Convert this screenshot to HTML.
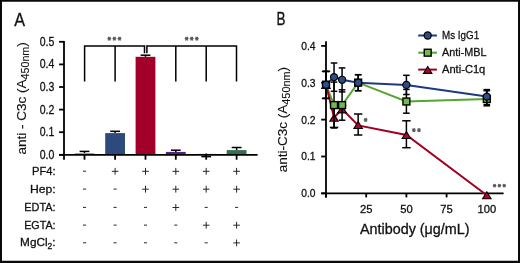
<!DOCTYPE html>
<html><head><meta charset="utf-8"><style>
html,body{margin:0;padding:0;background:#fff;}
svg{display:block;will-change:transform;}
text{font-family:"Liberation Sans", sans-serif;fill:#111;stroke:#111;stroke-width:0.3px;}
</style></head><body>
<svg width="520" height="263" viewBox="0 0 520 263">
<path d="M0 0H520V263H0Z M2 1.75V260.85H518V1.75Z" fill="#0a0a0a" fill-rule="evenodd"/>
<text x="14.3" y="25.6" font-size="17.8" textLength="10.8" lengthAdjust="spacingAndGlyphs">A</text>
<text x="276.4" y="25.4" font-size="18.0" textLength="9.0" lengthAdjust="spacingAndGlyphs">B</text>
<rect x="74.60" y="153.0" width="19.8" height="1.80" fill="#7dc36b"/>
<line x1="84.5" y1="151.4" x2="84.5" y2="153.0" stroke="#000" stroke-width="1.5"/>
<line x1="79.60" y1="151.4" x2="89.40" y2="151.4" stroke="#000" stroke-width="1.5"/>
<rect x="105.20" y="133.1" width="19.8" height="21.70" fill="#2e4a7d"/>
<line x1="115.1" y1="131.3" x2="115.1" y2="133.1" stroke="#000" stroke-width="1.5"/>
<line x1="110.20" y1="131.3" x2="120.00" y2="131.3" stroke="#000" stroke-width="1.5"/>
<rect x="135.60" y="56.8" width="19.8" height="98.00" fill="#a30029"/>
<line x1="145.5" y1="55.2" x2="145.5" y2="56.8" stroke="#000" stroke-width="1.5"/>
<line x1="140.60" y1="55.2" x2="150.40" y2="55.2" stroke="#000" stroke-width="1.5"/>
<rect x="165.90" y="151.9" width="19.8" height="2.90" fill="#58207f"/>
<line x1="175.8" y1="150.2" x2="175.8" y2="151.9" stroke="#000" stroke-width="1.5"/>
<line x1="170.90" y1="150.2" x2="180.70" y2="150.2" stroke="#000" stroke-width="1.5"/>
<rect x="196.30" y="153.6" width="19.8" height="1.20" fill="#f3d6b0"/>
<line x1="206.2" y1="156.6" x2="206.2" y2="153.6" stroke="#000" stroke-width="1.5"/>
<line x1="201.30" y1="156.6" x2="211.10" y2="156.6" stroke="#000" stroke-width="1.5"/>
<rect x="226.70" y="150.1" width="19.8" height="4.70" fill="#356e51"/>
<line x1="236.6" y1="147.5" x2="236.6" y2="150.1" stroke="#000" stroke-width="1.5"/>
<line x1="231.70" y1="147.5" x2="241.50" y2="147.5" stroke="#000" stroke-width="1.5"/>
<line x1="64.0" y1="41" x2="64.0" y2="159.7" stroke="#000" stroke-width="1.8"/>
<line x1="59.1" y1="154.8" x2="257.6" y2="154.8" stroke="#000" stroke-width="1.8"/>
<line x1="59.1" y1="154.80" x2="64.0" y2="154.80" stroke="#000" stroke-width="1.8"/>
<text x="54.3" y="158.70" font-size="12.6" text-anchor="end" textLength="14.6" lengthAdjust="spacingAndGlyphs">0.0</text>
<line x1="59.1" y1="132.20" x2="64.0" y2="132.20" stroke="#000" stroke-width="1.8"/>
<text x="54.3" y="136.10" font-size="12.6" text-anchor="end" textLength="14.6" lengthAdjust="spacingAndGlyphs">0.1</text>
<line x1="59.1" y1="109.60" x2="64.0" y2="109.60" stroke="#000" stroke-width="1.8"/>
<text x="54.3" y="113.50" font-size="12.6" text-anchor="end" textLength="14.6" lengthAdjust="spacingAndGlyphs">0.2</text>
<line x1="59.1" y1="87.00" x2="64.0" y2="87.00" stroke="#000" stroke-width="1.8"/>
<text x="54.3" y="90.90" font-size="12.6" text-anchor="end" textLength="14.6" lengthAdjust="spacingAndGlyphs">0.3</text>
<line x1="59.1" y1="64.40" x2="64.0" y2="64.40" stroke="#000" stroke-width="1.8"/>
<text x="54.3" y="68.30" font-size="12.6" text-anchor="end" textLength="14.6" lengthAdjust="spacingAndGlyphs">0.4</text>
<line x1="59.1" y1="41.80" x2="64.0" y2="41.80" stroke="#000" stroke-width="1.8"/>
<text x="54.3" y="45.70" font-size="12.6" text-anchor="end" textLength="14.6" lengthAdjust="spacingAndGlyphs">0.5</text>
<line x1="84.5" y1="154.8" x2="84.5" y2="159.7" stroke="#000" stroke-width="1.8"/>
<line x1="115.1" y1="154.8" x2="115.1" y2="159.7" stroke="#000" stroke-width="1.8"/>
<line x1="145.5" y1="154.8" x2="145.5" y2="159.7" stroke="#000" stroke-width="1.8"/>
<line x1="175.8" y1="154.8" x2="175.8" y2="159.7" stroke="#000" stroke-width="1.8"/>
<line x1="206.2" y1="154.8" x2="206.2" y2="159.7" stroke="#000" stroke-width="1.8"/>
<line x1="236.6" y1="154.8" x2="236.6" y2="159.7" stroke="#000" stroke-width="1.8"/>
<path d="M84.6 81.5 V45.9 H144.5 V53.3 M115.1 45.9 V81.5" fill="none" stroke="#000" stroke-width="1.5"/>
<path d="M146.9 53.3 V45.9 H236.5 V81.5 M175.8 45.9 V81.5 M206.2 45.9 V81.5" fill="none" stroke="#000" stroke-width="1.5"/>
<path d="M107.40 38.70 L111.20 38.70 M108.25 36.88 L110.35 40.52 M110.35 36.88 L108.25 40.52 " stroke="#5a5a5a" stroke-width="1.25" fill="none"/>
<path d="M112.50 38.70 L116.30 38.70 M113.35 36.88 L115.45 40.52 M115.45 36.88 L113.35 40.52 " stroke="#5a5a5a" stroke-width="1.25" fill="none"/>
<path d="M117.60 38.70 L121.40 38.70 M118.45 36.88 L120.55 40.52 M120.55 36.88 L118.45 40.52 " stroke="#5a5a5a" stroke-width="1.25" fill="none"/>
<path d="M184.70 38.70 L188.50 38.70 M185.55 36.88 L187.65 40.52 M187.65 36.88 L185.55 40.52 " stroke="#5a5a5a" stroke-width="1.25" fill="none"/>
<path d="M189.80 38.70 L193.60 38.70 M190.65 36.88 L192.75 40.52 M192.75 36.88 L190.65 40.52 " stroke="#5a5a5a" stroke-width="1.25" fill="none"/>
<path d="M194.90 38.70 L198.70 38.70 M195.75 36.88 L197.85 40.52 M197.85 36.88 L195.75 40.52 " stroke="#5a5a5a" stroke-width="1.25" fill="none"/>
<text style="stroke-width:0.12px" transform="translate(25.8,154.5) rotate(-90)" font-size="13.6" textLength="112.3" lengthAdjust="spacingAndGlyphs">anti - C3c (A<tspan font-size="10.8" dy="3.5">450nm</tspan><tspan dy="-3.5">)</tspan></text>
<text x="55.6" y="174.80" font-size="11.8" text-anchor="end" textLength="23.6" lengthAdjust="spacingAndGlyphs">PF4:</text>
<path d="M83.00 171.20 H86.00" stroke="#262626" stroke-width="1.0"/>
<path d="M111.80 171.30 H118.40 M115.10 167.90 V174.70" stroke="#262626" stroke-width="1.0"/>
<path d="M142.20 171.30 H148.80 M145.50 167.90 V174.70" stroke="#262626" stroke-width="1.0"/>
<path d="M172.50 171.30 H179.10 M175.80 167.90 V174.70" stroke="#262626" stroke-width="1.0"/>
<path d="M202.90 171.30 H209.50 M206.20 167.90 V174.70" stroke="#262626" stroke-width="1.0"/>
<path d="M233.30 171.30 H239.90 M236.60 167.90 V174.70" stroke="#262626" stroke-width="1.0"/>
<text x="55.6" y="192.70" font-size="11.8" text-anchor="end" textLength="25.7" lengthAdjust="spacingAndGlyphs">Hep:</text>
<path d="M83.00 189.10 H86.00" stroke="#262626" stroke-width="1.0"/>
<path d="M113.60 189.10 H116.60" stroke="#262626" stroke-width="1.0"/>
<path d="M142.20 189.20 H148.80 M145.50 185.80 V192.60" stroke="#262626" stroke-width="1.0"/>
<path d="M172.50 189.20 H179.10 M175.80 185.80 V192.60" stroke="#262626" stroke-width="1.0"/>
<path d="M202.90 189.20 H209.50 M206.20 185.80 V192.60" stroke="#262626" stroke-width="1.0"/>
<path d="M233.30 189.20 H239.90 M236.60 185.80 V192.60" stroke="#262626" stroke-width="1.0"/>
<text x="55.6" y="211.00" font-size="11.8" text-anchor="end" textLength="31.4" lengthAdjust="spacingAndGlyphs">EDTA:</text>
<path d="M83.00 207.40 H86.00" stroke="#262626" stroke-width="1.0"/>
<path d="M113.60 207.40 H116.60" stroke="#262626" stroke-width="1.0"/>
<path d="M144.00 207.40 H147.00" stroke="#262626" stroke-width="1.0"/>
<path d="M172.50 207.50 H179.10 M175.80 204.10 V210.90" stroke="#262626" stroke-width="1.0"/>
<path d="M204.70 207.40 H207.70" stroke="#262626" stroke-width="1.0"/>
<path d="M235.10 207.40 H238.10" stroke="#262626" stroke-width="1.0"/>
<text x="55.6" y="228.70" font-size="11.8" text-anchor="end" textLength="31.4" lengthAdjust="spacingAndGlyphs">EGTA:</text>
<path d="M83.00 225.10 H86.00" stroke="#262626" stroke-width="1.0"/>
<path d="M113.60 225.10 H116.60" stroke="#262626" stroke-width="1.0"/>
<path d="M144.00 225.10 H147.00" stroke="#262626" stroke-width="1.0"/>
<path d="M174.30 225.10 H177.30" stroke="#262626" stroke-width="1.0"/>
<path d="M202.90 225.20 H209.50 M206.20 221.80 V228.60" stroke="#262626" stroke-width="1.0"/>
<path d="M233.30 225.20 H239.90 M236.60 221.80 V228.60" stroke="#262626" stroke-width="1.0"/>
<text x="55.6" y="246.40" font-size="11.8" text-anchor="end" textLength="35.5" lengthAdjust="spacingAndGlyphs">MgCl<tspan font-size="8.5" dy="2.8">2</tspan><tspan dy="-2.8">:</tspan></text>
<path d="M83.00 242.80 H86.00" stroke="#262626" stroke-width="1.0"/>
<path d="M113.60 242.80 H116.60" stroke="#262626" stroke-width="1.0"/>
<path d="M144.00 242.80 H147.00" stroke="#262626" stroke-width="1.0"/>
<path d="M174.30 242.80 H177.30" stroke="#262626" stroke-width="1.0"/>
<path d="M204.70 242.80 H207.70" stroke="#262626" stroke-width="1.0"/>
<path d="M233.30 242.90 H239.90 M236.60 239.50 V246.30" stroke="#262626" stroke-width="1.0"/>
<line x1="326.0" y1="41.2" x2="326.0" y2="197.4" stroke="#000" stroke-width="1.8"/>
<line x1="321.2" y1="193.35" x2="503.6" y2="193.35" stroke="#000" stroke-width="1.8"/>
<line x1="321.2" y1="193.35" x2="326.0" y2="193.35" stroke="#000" stroke-width="1.8"/>
<text x="315.6" y="197.35" font-size="11.4" text-anchor="end" textLength="14.3" lengthAdjust="spacingAndGlyphs">0.0</text>
<line x1="321.2" y1="156.49" x2="326.0" y2="156.49" stroke="#000" stroke-width="1.8"/>
<text x="315.6" y="160.49" font-size="11.4" text-anchor="end" textLength="14.3" lengthAdjust="spacingAndGlyphs">0.1</text>
<line x1="321.2" y1="119.63" x2="326.0" y2="119.63" stroke="#000" stroke-width="1.8"/>
<text x="315.6" y="123.63" font-size="11.4" text-anchor="end" textLength="14.3" lengthAdjust="spacingAndGlyphs">0.2</text>
<line x1="321.2" y1="82.77" x2="326.0" y2="82.77" stroke="#000" stroke-width="1.8"/>
<text x="315.6" y="86.77" font-size="11.4" text-anchor="end" textLength="14.3" lengthAdjust="spacingAndGlyphs">0.3</text>
<line x1="321.2" y1="45.91" x2="326.0" y2="45.91" stroke="#000" stroke-width="1.8"/>
<text x="315.6" y="49.91" font-size="11.4" text-anchor="end" textLength="14.3" lengthAdjust="spacingAndGlyphs">0.4</text>
<line x1="326.00" y1="193.35" x2="326.00" y2="197.4" stroke="#000" stroke-width="1.8"/>
<line x1="366.20" y1="193.35" x2="366.20" y2="197.4" stroke="#000" stroke-width="1.8"/>
<text x="366.20" y="213.3" font-size="11.2" text-anchor="middle">25</text>
<line x1="406.40" y1="193.35" x2="406.40" y2="197.4" stroke="#000" stroke-width="1.8"/>
<text x="406.40" y="213.3" font-size="11.2" text-anchor="middle">50</text>
<line x1="446.60" y1="193.35" x2="446.60" y2="197.4" stroke="#000" stroke-width="1.8"/>
<text x="446.60" y="213.3" font-size="11.2" text-anchor="middle">75</text>
<line x1="486.80" y1="193.35" x2="486.80" y2="197.4" stroke="#000" stroke-width="1.8"/>
<text x="486.80" y="213.3" font-size="11.2" text-anchor="middle">100</text>
<text x="360" y="234.3" font-size="14" textLength="109.5" lengthAdjust="spacingAndGlyphs">Antibody (μg/mL)</text>
<text style="stroke-width:0.12px" transform="translate(286.7,172.2) rotate(-90)" font-size="13.4" textLength="105.3" lengthAdjust="spacingAndGlyphs">anti-C3c (A<tspan font-size="10.8" dy="3.5">450nm</tspan><tspan dy="-3.5">)</tspan></text>
<polyline points="326.00,84.7 334.04,105.1 342.08,105.1 358.16,82.6 406.40,101.5 486.80,99.0" fill="none" stroke="#56a530" stroke-width="2"/>
<polyline points="326.00,84.7 334.04,117.4 342.08,109.0 358.16,125.4 406.40,134.9 486.80,195.2" fill="none" stroke="#a0001f" stroke-width="2"/>
<polyline points="326.00,84.7 334.04,77.1 342.08,79.8 358.16,82.8 406.40,84.9 486.80,96.6" fill="none" stroke="#1d3b7c" stroke-width="2"/>
<line x1="326.00" y1="71.4" x2="326.00" y2="98.4" stroke="#000" stroke-width="1.5"/>
<line x1="321.80" y1="71.4" x2="330.20" y2="71.4" stroke="#000" stroke-width="1.5"/>
<line x1="321.80" y1="98.4" x2="330.20" y2="98.4" stroke="#000" stroke-width="1.5"/>
<line x1="334.04" y1="107.0" x2="334.04" y2="127.4" stroke="#000" stroke-width="1.5"/>
<line x1="329.84" y1="107.0" x2="338.24" y2="107.0" stroke="#000" stroke-width="1.5"/>
<line x1="329.84" y1="127.4" x2="338.24" y2="127.4" stroke="#000" stroke-width="1.5"/>
<line x1="342.08" y1="105.5" x2="342.08" y2="112.5" stroke="#000" stroke-width="1.5"/>
<line x1="337.88" y1="105.5" x2="346.28" y2="105.5" stroke="#000" stroke-width="1.5"/>
<line x1="337.88" y1="112.5" x2="346.28" y2="112.5" stroke="#000" stroke-width="1.5"/>
<line x1="358.16" y1="114.0" x2="358.16" y2="135.0" stroke="#000" stroke-width="1.5"/>
<line x1="353.96" y1="114.0" x2="362.36" y2="114.0" stroke="#000" stroke-width="1.5"/>
<line x1="353.96" y1="135.0" x2="362.36" y2="135.0" stroke="#000" stroke-width="1.5"/>
<line x1="406.40" y1="120.8" x2="406.40" y2="147.7" stroke="#000" stroke-width="1.5"/>
<line x1="402.20" y1="120.8" x2="410.60" y2="120.8" stroke="#000" stroke-width="1.5"/>
<line x1="402.20" y1="147.7" x2="410.60" y2="147.7" stroke="#000" stroke-width="1.5"/>
<path d="M326.00 80.40 L331.20 88.90 L320.80 88.90 Z" fill="#000"/><path d="M326.00 82.41 L329.33 87.85 L322.67 87.85 Z" fill="#b3002e"/>
<path d="M334.04 113.20 L339.24 121.70 L328.84 121.70 Z" fill="#000"/><path d="M334.04 115.21 L337.37 120.65 L330.71 120.65 Z" fill="#b3002e"/>
<path d="M342.08 104.80 L347.28 113.30 L336.88 113.30 Z" fill="#000"/><path d="M342.08 106.81 L345.41 112.25 L338.75 112.25 Z" fill="#b3002e"/>
<path d="M358.16 120.50 L363.36 129.00 L352.96 129.00 Z" fill="#000"/><path d="M358.16 122.51 L361.49 127.95 L354.83 127.95 Z" fill="#b3002e"/>
<path d="M406.40 130.60 L411.60 139.10 L401.20 139.10 Z" fill="#000"/><path d="M406.40 132.61 L409.73 138.05 L403.07 138.05 Z" fill="#b3002e"/>
<path d="M486.80 190.80 L492.00 199.30 L481.60 199.30 Z" fill="#000"/><path d="M486.80 192.81 L490.13 198.25 L483.47 198.25 Z" fill="#b3002e"/>
<line x1="326.00" y1="71.4" x2="326.00" y2="98.4" stroke="#000" stroke-width="1.5"/>
<line x1="322.70" y1="71.4" x2="329.30" y2="71.4" stroke="#000" stroke-width="1.5"/>
<line x1="322.70" y1="98.4" x2="329.30" y2="98.4" stroke="#000" stroke-width="1.5"/>
<line x1="334.04" y1="82.1" x2="334.04" y2="128.0" stroke="#000" stroke-width="1.5"/>
<line x1="330.74" y1="82.1" x2="337.34" y2="82.1" stroke="#000" stroke-width="1.5"/>
<line x1="330.74" y1="128.0" x2="337.34" y2="128.0" stroke="#000" stroke-width="1.5"/>
<line x1="342.08" y1="89.8" x2="342.08" y2="120.2" stroke="#000" stroke-width="1.5"/>
<line x1="338.78" y1="89.8" x2="345.38" y2="89.8" stroke="#000" stroke-width="1.5"/>
<line x1="338.78" y1="120.2" x2="345.38" y2="120.2" stroke="#000" stroke-width="1.5"/>
<line x1="358.16" y1="74.7" x2="358.16" y2="90.7" stroke="#000" stroke-width="1.5"/>
<line x1="354.86" y1="74.7" x2="361.46" y2="74.7" stroke="#000" stroke-width="1.5"/>
<line x1="354.86" y1="90.7" x2="361.46" y2="90.7" stroke="#000" stroke-width="1.5"/>
<line x1="406.40" y1="89.4" x2="406.40" y2="113.2" stroke="#000" stroke-width="1.5"/>
<line x1="403.10" y1="89.4" x2="409.70" y2="89.4" stroke="#000" stroke-width="1.5"/>
<line x1="403.10" y1="113.2" x2="409.70" y2="113.2" stroke="#000" stroke-width="1.5"/>
<line x1="486.80" y1="90.7" x2="486.80" y2="105.8" stroke="#000" stroke-width="1.5"/>
<line x1="483.50" y1="90.7" x2="490.10" y2="90.7" stroke="#000" stroke-width="1.5"/>
<line x1="483.50" y1="105.8" x2="490.10" y2="105.8" stroke="#000" stroke-width="1.5"/>
<rect x="321.85" y="80.55" width="8.3" height="8.3" fill="#000"/><rect x="323.25" y="81.95" width="5.50" height="5.50" fill="#74b94f"/>
<rect x="329.89" y="100.95" width="8.3" height="8.3" fill="#000"/><rect x="331.29" y="102.35" width="5.50" height="5.50" fill="#74b94f"/>
<rect x="337.93" y="100.95" width="8.3" height="8.3" fill="#000"/><rect x="339.33" y="102.35" width="5.50" height="5.50" fill="#74b94f"/>
<rect x="354.01" y="78.45" width="8.3" height="8.3" fill="#000"/><rect x="355.41" y="79.85" width="5.50" height="5.50" fill="#74b94f"/>
<rect x="402.25" y="97.35" width="8.3" height="8.3" fill="#000"/><rect x="403.65" y="98.75" width="5.50" height="5.50" fill="#74b94f"/>
<rect x="482.65" y="94.85" width="8.3" height="8.3" fill="#000"/><rect x="484.05" y="96.25" width="5.50" height="5.50" fill="#74b94f"/>
<line x1="326.00" y1="71.4" x2="326.00" y2="98.4" stroke="#000" stroke-width="1.5"/>
<line x1="322.70" y1="71.4" x2="329.30" y2="71.4" stroke="#000" stroke-width="1.5"/>
<line x1="322.70" y1="98.4" x2="329.30" y2="98.4" stroke="#000" stroke-width="1.5"/>
<line x1="334.04" y1="63.0" x2="334.04" y2="91.3" stroke="#000" stroke-width="1.5"/>
<line x1="330.74" y1="63.0" x2="337.34" y2="63.0" stroke="#000" stroke-width="1.5"/>
<line x1="330.74" y1="91.3" x2="337.34" y2="91.3" stroke="#000" stroke-width="1.5"/>
<line x1="342.08" y1="67.9" x2="342.08" y2="91.9" stroke="#000" stroke-width="1.5"/>
<line x1="338.78" y1="67.9" x2="345.38" y2="67.9" stroke="#000" stroke-width="1.5"/>
<line x1="338.78" y1="91.9" x2="345.38" y2="91.9" stroke="#000" stroke-width="1.5"/>
<line x1="358.16" y1="74.7" x2="358.16" y2="90.7" stroke="#000" stroke-width="1.5"/>
<line x1="354.86" y1="74.7" x2="361.46" y2="74.7" stroke="#000" stroke-width="1.5"/>
<line x1="354.86" y1="90.7" x2="361.46" y2="90.7" stroke="#000" stroke-width="1.5"/>
<line x1="406.40" y1="75.3" x2="406.40" y2="94.5" stroke="#000" stroke-width="1.5"/>
<line x1="403.10" y1="75.3" x2="409.70" y2="75.3" stroke="#000" stroke-width="1.5"/>
<line x1="403.10" y1="94.5" x2="409.70" y2="94.5" stroke="#000" stroke-width="1.5"/>
<line x1="486.80" y1="89.6" x2="486.80" y2="104.6" stroke="#000" stroke-width="1.5"/>
<line x1="483.50" y1="89.6" x2="490.10" y2="89.6" stroke="#000" stroke-width="1.5"/>
<line x1="483.50" y1="104.6" x2="490.10" y2="104.6" stroke="#000" stroke-width="1.5"/>
<circle cx="326.00" cy="84.7" r="4.15" fill="#000"/><circle cx="326.00" cy="84.7" r="2.95" fill="#2e4d88"/>
<circle cx="334.04" cy="77.1" r="4.15" fill="#000"/><circle cx="334.04" cy="77.1" r="2.95" fill="#2e4d88"/>
<circle cx="342.08" cy="79.8" r="4.15" fill="#000"/><circle cx="342.08" cy="79.8" r="2.95" fill="#2e4d88"/>
<circle cx="358.16" cy="82.8" r="4.15" fill="#000"/><circle cx="358.16" cy="82.8" r="2.95" fill="#2e4d88"/>
<circle cx="406.40" cy="84.9" r="4.15" fill="#000"/><circle cx="406.40" cy="84.9" r="2.95" fill="#2e4d88"/>
<circle cx="486.80" cy="96.6" r="4.15" fill="#000"/><circle cx="486.80" cy="96.6" r="2.95" fill="#2e4d88"/>
<path d="M363.70 119.90 L367.50 119.90 M364.55 118.08 L366.65 121.72 M366.65 118.08 L364.55 121.72 " stroke="#5a5a5a" stroke-width="1.25" fill="none"/>
<path d="M411.95 130.20 L415.75 130.20 M412.80 128.38 L414.90 132.02 M414.90 128.38 L412.80 132.02 " stroke="#5a5a5a" stroke-width="1.25" fill="none"/>
<path d="M417.05 130.20 L420.85 130.20 M417.90 128.38 L420.00 132.02 M420.00 128.38 L417.90 132.02 " stroke="#5a5a5a" stroke-width="1.25" fill="none"/>
<path d="M492.84 185.60 L496.26 185.60 M493.60 183.96 L495.49 187.24 M495.49 183.96 L493.60 187.24 " stroke="#5a5a5a" stroke-width="1.25" fill="none"/>
<path d="M497.69 185.60 L501.11 185.60 M498.45 183.96 L500.34 187.24 M500.34 183.96 L498.45 187.24 " stroke="#5a5a5a" stroke-width="1.25" fill="none"/>
<path d="M502.54 185.60 L505.96 185.60 M503.30 183.96 L505.19 187.24 M505.19 183.96 L503.30 187.24 " stroke="#5a5a5a" stroke-width="1.25" fill="none"/>
<line x1="418.2" y1="35.5" x2="436.9" y2="35.5" stroke="#1d3b7c" stroke-width="2"/>
<circle cx="427.70" cy="35.5" r="4.15" fill="#000"/><circle cx="427.70" cy="35.5" r="2.95" fill="#2e4d88"/>
<text x="442.0" y="38.9" font-size="11.8" textLength="37.2" lengthAdjust="spacingAndGlyphs">Ms IgG1</text>
<line x1="418.2" y1="52.7" x2="436.9" y2="52.7" stroke="#56a530" stroke-width="2"/>
<rect x="423.55" y="48.55" width="8.3" height="8.3" fill="#000"/><rect x="424.95" y="49.95" width="5.50" height="5.50" fill="#74b94f"/>
<text x="442.0" y="56.4" font-size="11.8" textLength="44.6" lengthAdjust="spacingAndGlyphs">Anti-MBL</text>
<line x1="418.2" y1="69.6" x2="436.9" y2="69.6" stroke="#a0001f" stroke-width="2"/>
<path d="M427.70 65.40 L432.90 73.90 L422.50 73.90 Z" fill="#000"/><path d="M427.70 67.41 L431.03 72.85 L424.37 72.85 Z" fill="#b3002e"/>
<text x="442.0" y="72.5" font-size="11.8" textLength="43.3" lengthAdjust="spacingAndGlyphs">Anti-C1q</text>
</svg>
</body></html>
